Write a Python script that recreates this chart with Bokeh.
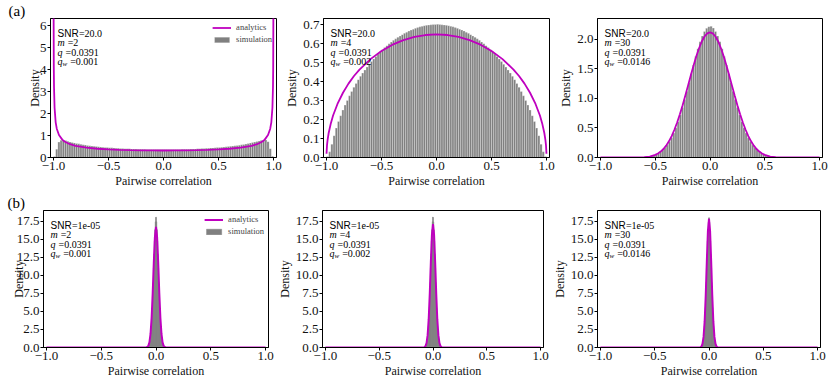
import numpy as np
from bokeh.plotting import figure
from bokeh.layouts import column, row
from bokeh.models import Range1d, FixedTicker, Label, Legend, LegendItem, Title
from bokeh.embed import file_html
from bokeh.resources import INLINE

# ---------------- data ----------------
x_ticks = [-1.0, -0.5, 0.0, 0.5, 1.0]
x_tick_labels = ["−1.0", "−0.5", "0.0", "0.5", "1.0"]

# top row: 100 bins on [-1, 1]
top_bin_lo, top_bin_hi, top_nbins = -1.0, 1.0, 100
hist_a_m2 = [
    0.05, 0.38, 0.70, 0.78, 0.79, 0.77, 0.74, 0.71, 0.68, 0.66,
    0.64, 0.62, 0.60, 0.58, 0.565, 0.55, 0.535, 0.52, 0.51, 0.50,
    0.49, 0.48, 0.47, 0.46, 0.452, 0.445, 0.438, 0.432, 0.425, 0.42,
    0.414, 0.408, 0.403, 0.398, 0.394, 0.39, 0.386, 0.382, 0.379, 0.376,
    0.373, 0.371, 0.369, 0.367, 0.365, 0.364, 0.363, 0.362, 0.361, 0.361,
    0.361, 0.362, 0.362, 0.363, 0.364, 0.366, 0.367, 0.369, 0.372, 0.374,
    0.377, 0.380, 0.384, 0.388, 0.392, 0.396, 0.401, 0.406, 0.412, 0.418,
    0.424, 0.430, 0.437, 0.444, 0.451, 0.459, 0.468, 0.478, 0.488, 0.498,
    0.508, 0.519, 0.532, 0.546, 0.561, 0.577, 0.595, 0.615, 0.636, 0.658,
    0.68, 0.705, 0.73, 0.755, 0.78, 0.80, 0.80, 0.72, 0.40, 0.06,
]
hist_a_m4 = [
    0.005, 0.03, 0.07, 0.115, 0.155, 0.19, 0.22, 0.25, 0.276, 0.30,
    0.325, 0.348, 0.37, 0.39, 0.41, 0.428, 0.445, 0.461, 0.476, 0.491,
    0.505, 0.519, 0.532, 0.545, 0.557, 0.568, 0.579, 0.589, 0.599, 0.608,
    0.617, 0.625, 0.633, 0.64, 0.647, 0.654, 0.66, 0.666, 0.671, 0.676,
    0.68, 0.684, 0.688, 0.691, 0.694, 0.696, 0.698, 0.699, 0.70, 0.701,
    0.702, 0.70, 0.699, 0.698, 0.696, 0.694, 0.691, 0.688, 0.684, 0.68,
    0.676, 0.671, 0.666, 0.66, 0.654, 0.647, 0.64, 0.633, 0.625, 0.617,
    0.608, 0.599, 0.589, 0.579, 0.568, 0.557, 0.545, 0.532, 0.519, 0.505,
    0.491, 0.476, 0.461, 0.445, 0.428, 0.41, 0.39, 0.37, 0.348, 0.325,
    0.30, 0.276, 0.25, 0.22, 0.19, 0.155, 0.115, 0.07, 0.03, 0.005,
]
hist_a_m30 = [
    0, 0, 0, 0, 0, 0, 0, 0, 0, 0,
    0, 0, 0, 0, 0, 0, 0, 0.002, 0.004, 0.007,
    0.010, 0.015, 0.021, 0.029, 0.040, 0.055, 0.073, 0.098, 0.128, 0.166,
    0.212, 0.268, 0.335, 0.414, 0.504, 0.606, 0.721, 0.846, 0.981, 1.124,
    1.272, 1.421, 1.569, 1.710, 1.842, 1.959, 2.058, 2.136, 2.189, 2.217,
    2.222, 2.192, 2.136, 2.058, 1.959, 1.842, 1.710, 1.569, 1.421, 1.272,
    1.124, 0.981, 0.846, 0.721, 0.606, 0.504, 0.414, 0.335, 0.268, 0.212,
    0.166, 0.128, 0.098, 0.073, 0.055, 0.040, 0.029, 0.021, 0.015, 0.010,
    0.007, 0.004, 0.002, 0, 0, 0, 0, 0, 0, 0,
    0, 0, 0, 0, 0, 0, 0, 0, 0, 0,
]

curve_a_m2_x = [-0.999, -0.997, -0.995, -0.99, -0.98, -0.97, -0.95, -0.92, -0.9, -0.85,
                -0.8, -0.7, -0.6, -0.5, -0.4, -0.3, -0.2, -0.1, 0.0, 0.1, 0.2, 0.3,
                0.4, 0.5, 0.6, 0.7, 0.8, 0.85, 0.9, 0.92, 0.95, 0.97, 0.98, 0.99,
                0.995, 0.997, 0.999]
curve_a_m2_y = [7.12, 4.11, 3.19, 2.26, 1.60, 1.31, 1.02, 0.812, 0.730, 0.604,
                0.531, 0.446, 0.398, 0.368, 0.347, 0.334, 0.325, 0.320, 0.318, 0.320,
                0.325, 0.334, 0.347, 0.368, 0.398, 0.446, 0.531, 0.604, 0.730, 0.812,
                1.02, 1.31, 1.60, 2.26, 3.19, 4.11, 7.12]
curve_a_m4_x = [-0.9995, -0.995, -0.99, -0.98, -0.96, -0.94, -0.9, -0.85, -0.8, -0.75,
                -0.7, -0.6, -0.5, -0.4, -0.3, -0.2, -0.1, 0.0, 0.1, 0.2, 0.3, 0.4,
                0.5, 0.6, 0.7, 0.75, 0.8, 0.85, 0.9, 0.94, 0.96, 0.98, 0.99, 0.995, 0.9995]
curve_a_m4_y = [0.02, 0.065, 0.091, 0.129, 0.181, 0.221, 0.282, 0.341, 0.389, 0.429,
                0.463, 0.518, 0.561, 0.594, 0.618, 0.635, 0.645, 0.648, 0.645, 0.635,
                0.618, 0.594, 0.561, 0.518, 0.463, 0.429, 0.389, 0.341, 0.282, 0.221,
                0.181, 0.129, 0.091, 0.065, 0.02]
curve_a_m30_x = [-1.0, -0.8, -0.7, -0.6, -0.55, -0.5, -0.475, -0.45, -0.425, -0.4,
                 -0.375, -0.35, -0.325, -0.3, -0.275, -0.25, -0.225, -0.2, -0.175, -0.15,
                 -0.125, -0.1, -0.075, -0.05, -0.025, 0.0, 0.025, 0.05, 0.075, 0.1,
                 0.125, 0.15, 0.175, 0.2, 0.225, 0.25, 0.275, 0.3, 0.325, 0.35,
                 0.375, 0.4, 0.425, 0.45, 0.475, 0.5, 0.55, 0.6, 0.7, 0.8, 1.0]
curve_a_m30_y = [0.0, 0.0, 0.0002, 0.005, 0.016, 0.044, 0.067, 0.100, 0.144, 0.201,
                 0.274, 0.363, 0.470, 0.593, 0.733, 0.887, 1.051, 1.222, 1.393, 1.559,
                 1.714, 1.851, 1.965, 2.050, 2.102, 2.12, 2.102, 2.050, 1.965, 1.851,
                 1.714, 1.559, 1.393, 1.222, 1.051, 0.887, 0.733, 0.593, 0.470, 0.363,
                 0.274, 0.201, 0.144, 0.100, 0.067, 0.044, 0.016, 0.005, 0.0002, 0.0, 0.0]

# bottom row: 40 narrow bins on [-0.08, 0.08]
bot_bin_lo, bot_bin_hi, bot_nbins = -0.08, 0.08, 40
hist_b_m2 = [0.04, 0.07, 0.12, 0.21, 0.35, 0.58, 0.91, 1.40, 2.07, 2.97,
             4.12, 5.53, 7.18, 9.04, 11.00, 12.96, 14.77, 16.29, 17.40, 18.02,
             18.05, 17.41, 16.30, 14.76, 12.95, 11.01, 9.03, 7.19, 5.52, 4.13,
             2.96, 2.08, 1.39, 0.92, 0.58, 0.35, 0.21, 0.12, 0.07, 0.04]
hist_b_m4 = [0.04, 0.07, 0.12, 0.21, 0.35, 0.58, 0.91, 1.40, 2.07, 2.98,
             4.12, 5.54, 7.18, 9.05, 11.01, 12.97, 14.78, 16.30, 17.42, 18.06,
             18.02, 17.39, 16.28, 14.77, 12.96, 11.00, 9.04, 7.17, 5.53, 4.12,
             2.97, 2.07, 1.40, 0.91, 0.58, 0.35, 0.21, 0.12, 0.07, 0.04]
hist_b_m30 = [0.04, 0.07, 0.12, 0.21, 0.35, 0.58, 0.91, 1.40, 2.06, 2.96,
              4.11, 5.52, 7.17, 9.03, 10.98, 12.94, 14.74, 16.25, 17.35, 17.95,
              17.97, 17.36, 16.26, 14.75, 12.95, 10.99, 9.02, 7.18, 5.52, 4.12,
              2.97, 2.07, 1.40, 0.91, 0.58, 0.35, 0.21, 0.12, 0.07, 0.04]
curve_b_x = [-1.0, -0.5, -0.2, -0.12, -0.1, -0.09, -0.08, -0.07, -0.06, -0.05,
             -0.04, -0.03, -0.02, -0.01, 0.0, 0.01, 0.02, 0.03, 0.04, 0.05,
             0.06, 0.07, 0.08, 0.09, 0.1, 0.12, 0.2, 0.5, 1.0]
curve_b_m2_y = [0, 0, 0, 0, 0, 0.01, 0.06, 0.23, 0.71, 1.87,
                4.11, 7.59, 11.77, 15.30, 16.7, 15.30, 11.77, 7.59, 4.11, 1.87,
                0.71, 0.23, 0.06, 0.01, 0, 0, 0, 0, 0]
curve_b_m4_y = [0, 0, 0, 0, 0, 0.01, 0.05, 0.19, 0.62, 1.71,
                3.92, 7.47, 11.83, 15.60, 17.1, 15.60, 11.83, 7.47, 3.92, 1.71,
                0.62, 0.19, 0.05, 0.01, 0, 0, 0, 0, 0]
curve_b_m30_y = [0, 0, 0, 0, 0, 0.005, 0.03, 0.13, 0.49, 1.47,
                 3.61, 7.26, 11.95, 16.11, 17.8, 16.11, 11.95, 7.26, 3.61, 1.47,
                 0.49, 0.13, 0.03, 0.005, 0, 0, 0, 0, 0]

snr_labels = ["20.0", "1e-05"]
m_labels = ["2", "4", "30"]
q_label = "0.0391"
qw_labels = ["0.001", "0.002", "0.0146"]
row_tags = ["(a)", "(b)"]

yticks_top = [[0, 1, 2, 3, 4, 5, 6],
              [0.0, 0.1, 0.2, 0.3, 0.4, 0.5, 0.6, 0.7],
              [0.0, 0.5, 1.0, 1.5, 2.0]]
ylabels_top = [["0", "1", "2", "3", "4", "5", "6"],
               ["0.0", "0.1", "0.2", "0.3", "0.4", "0.5", "0.6", "0.7"],
               ["0.0", "0.5", "1.0", "1.5", "2.0"]]
yticks_bot = [0.0, 2.5, 5.0, 7.5, 10.0, 12.5, 15.0, 17.5]
ylabels_bot = ["0.0", "2.5", "5.0", "7.5", "10.0", "12.5", "15.0", "17.5"]

# ---------------- style ----------------
SERIF = "Liberation Serif"
SANS = "Liberation Sans"
MAG = "#bf00bf"
GRAY = "#808080"
XMIN, XMAX = -1.027, 1.027


def make_panel(edges, hist, cx, cy, ymax, yt, ytl, snr, m, qw, with_legend, tag,
               bl, fw, br, bt, fh, bb, thin_bins, lw, tag_offset, ylab_standoff):
    p = figure(width=bl + fw + br, height=bt + fh + bb,
               x_range=Range1d(XMIN, XMAX), y_range=Range1d(0, ymax),
               output_backend="svg", toolbar_location=None,
               min_border_left=bl, min_border_right=br,
               min_border_top=bt, min_border_bottom=bb)
    p.xgrid.visible = False
    p.ygrid.visible = False
    p.background_fill_color = "white"
    p.border_fill_color = "white"
    p.outline_line_color = "black"
    p.outline_line_alpha = 1.0
    p.outline_line_width = 1
    for axs in (p.xaxis, p.yaxis):
        axs.major_tick_in = 0
        axs.major_tick_out = 3
        axs.minor_tick_line_color = None
        axs.axis_line_color = "black"
        axs.major_tick_line_color = "black"
        axs.major_label_text_font = SERIF
        axs.major_label_text_font_size = "13px"
        axs.major_label_text_font_style = "normal"
        axs.major_label_text_color = "#111111"
        axs.axis_label_text_font = SERIF
        axs.axis_label_text_font_size = "12px"
        axs.axis_label_text_font_style = "normal"
        axs.axis_label_text_color = "#111111"
        axs.major_label_standoff = 1
    p.xaxis.axis_label_standoff = 1
    p.yaxis.axis_label_standoff = ylab_standoff
    p.xaxis.ticker = FixedTicker(ticks=x_ticks)
    p.xaxis.major_label_overrides = dict(zip(x_ticks, x_tick_labels))
    p.yaxis.ticker = FixedTicker(ticks=yt)
    p.yaxis.major_label_overrides = dict(zip(yt, ytl))
    p.xaxis.axis_label = "Pairwise correlation"
    p.yaxis.axis_label = "Density"

    left = edges[:-1]
    right = edges[1:]
    if thin_bins:
        qr = p.quad(left=left, right=right, bottom=0, top=hist,
                    fill_color=GRAY, line_color=GRAY, line_width=0.4)
    else:
        qr = p.quad(left=left, right=right, bottom=0, top=hist,
                    fill_color=GRAY, line_color="white", line_width=0.4, line_alpha=0.7)
    lr = p.line(cx, cy, line_color=MAG, line_width=lw)

    if with_legend:
        leg = Legend(items=[LegendItem(label="analytics", renderers=[lr]),
                            LegendItem(label="simulation", renderers=[qr])],
                     location="top_right", margin=4, padding=3,
                     border_line_color=None, background_fill_alpha=0,
                     label_text_font=SERIF, label_text_font_size="8.5px",
                     glyph_width=19, glyph_height=7, label_height=9,
                     label_width=35, label_standoff=5, spacing=2)
        p.add_layout(leg)

    # annotation block
    x0 = 7
    base = [15, 24.3, 33.5, 42.7]
    pieces = [
        ("SNR", SANS, "normal", "10px", 0, base[0]),
        ("=" + snr, SERIF, "normal", "10px", 21.4, base[0]),
        ("m", SERIF, "italic", "10px", 0, base[1]),
        ("=" + m, SERIF, "normal", "10px", 10.2, base[1]),
        ("q", SERIF, "italic", "10px", 0, base[2]),
        ("=" + q_label, SERIF, "normal", "10px", 8.0, base[2]),
        ("q", SERIF, "italic", "10px", 0, base[3]),
        ("w", SERIF, "italic", "7px", 5.0, base[3] + 2.5),
        ("=" + qw, SERIF, "normal", "10px", 12.7, base[3]),
    ]
    for txt, font, style, size, dx, dy in pieces:
        p.add_layout(Label(x=XMIN, y=ymax, x_units="data", y_units="data",
                           x_offset=x0 + dx, y_offset=-dy, text=txt,
                           text_font=font, text_font_style=style,
                           text_font_size=size, text_color="black",
                           text_baseline="alphabetic", text_align="left"))
    if tag:
        p.add_layout(Title(text=tag, align="left", offset=tag_offset,
                           text_font=SERIF, text_font_size="15px",
                           text_font_style="normal", text_color="black",
                           standoff=0), "above")
    return p


top_edges = np.linspace(top_bin_lo, top_bin_hi, top_nbins + 1)
bot_edges = np.linspace(bot_bin_lo, bot_bin_hi, bot_nbins + 1)

top_hists = [hist_a_m2, hist_a_m4, hist_a_m30]
top_cx = [curve_a_m2_x, curve_a_m4_x, curve_a_m30_x]
top_cy = [curve_a_m2_y, curve_a_m4_y, curve_a_m30_y]
top_ymax = [6.32, 0.732, 2.355]
bot_hists = [hist_b_m2, hist_b_m4, hist_b_m30]
bot_cy = [curve_b_m2_y, curve_b_m4_y, curve_b_m30_y]
BOT_YMAX = 18.97

# (border_left, frame_width, border_right, y-label standoff) per column
top_geom = [(50, 226, 6, -5), (41, 226, 6, 1), (42, 225, 7, 1)]
bot_geom = [(43, 225, 6, -12), (43, 226, 6, 1), (45, 226, 8, 1)]

top_figs = []
for i in range(3):
    bl, fw, br, ys = top_geom[i]
    top_figs.append(make_panel(top_edges, top_hists[i], top_cx[i], top_cy[i], top_ymax[i],
                               yticks_top[i], ylabels_top[i], snr_labels[0], m_labels[i],
                               qw_labels[i], i == 0, row_tags[0] if i == 0 else None,
                               bl, fw, br, 17, 140, 34, False, 1.8, -42, ys))
bot_figs = []
for i in range(3):
    bl, fw, br, ys = bot_geom[i]
    bot_figs.append(make_panel(bot_edges, bot_hists[i], curve_b_x, bot_cy[i], BOT_YMAX,
                               yticks_bot, ylabels_bot, snr_labels[1], m_labels[i],
                               qw_labels[i], i == 0, row_tags[1] if i == 0 else None,
                               bl, fw, br, 19, 137, 33, True, 2.0, -36, ys))

layout = column(row(*top_figs), row(*bot_figs))
open("out.html", "w").write(file_html(layout, INLINE))
